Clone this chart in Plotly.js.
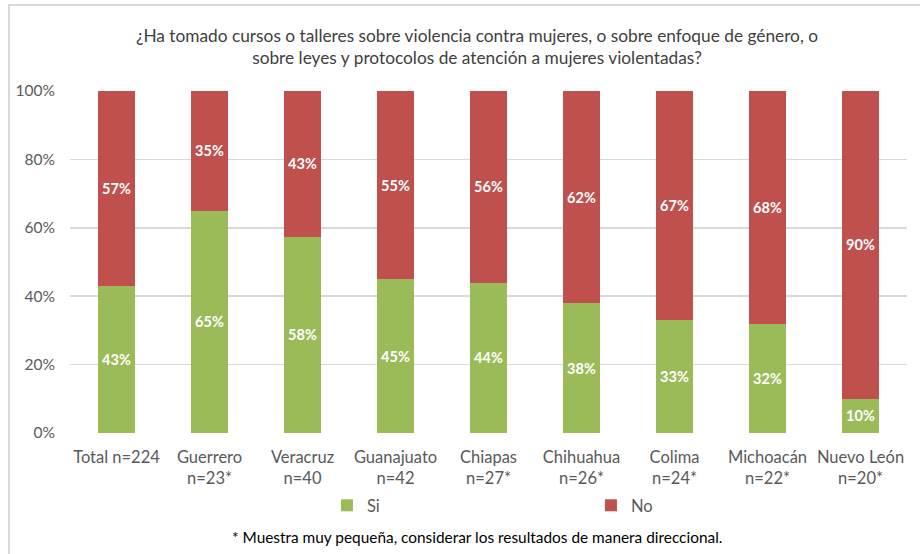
<!DOCTYPE html>
<html>
<head>
<meta charset="utf-8">
<script src="https://cdn.plot.ly/plotly-3.0.1.min.js"></script>
<style>
html,body{margin:0;padding:0;background:#fff;}
#frame{position:absolute;left:8px;top:4px;width:930px;height:560px;border:2px solid #D9D9D9;box-sizing:border-box;}
#chart{position:absolute;left:0;top:0;width:920px;height:554px;}
</style>
</head>
<body>
<div id="frame"></div>
<div id="chart"></div>
<script>
const categories = ["Total n=224", "Guerrero<br>n=23*", "Veracruz<br>n=40", "Guanajuato<br>n=42", "Chiapas<br>n=27*", "Chihuahua<br>n=26*", "Colima<br>n=24*", "Michoacán<br>n=22*", "Nuevo León<br>n=20*"];
const siValues = [43, 65, 58, 45, 44, 38, 33, 32, 10];
const noValues = [57, 35, 43, 55, 56, 62, 67, 68, 90];
const yTicks = [0, 20, 40, 60, 80, 100];
const yTickText = ["0%", "20%", "40%", "60%", "80%", "100%"];

const FONT = "Lato, 'Open Sans', sans-serif";

const traces = [
  {
    type: 'bar', name: 'Si', x: categories, y: siValues,
    text: siValues.map(v => v + '%'), texttemplate: '<b>%{text}</b>',
    textposition: 'inside', insidetextanchor: 'middle',
    textfont: {color: '#FFFFFF', size: 14.5, family: FONT},
    marker: {color: '#9BBB59'}, hoverinfo: 'none'
  },
  {
    type: 'bar', name: 'No', x: categories, y: noValues,
    text: noValues.map(v => v + '%'), texttemplate: '<b>%{text}</b>',
    textposition: 'inside', insidetextanchor: 'middle',
    textfont: {color: '#FFFFFF', size: 14.5, family: FONT},
    marker: {color: '#C0504D'}, hoverinfo: 'none'
  }
];

const layout = {
  width: 920, height: 554,
  margin: {l: 70, r: 13, t: 91, b: 121},
  paper_bgcolor: 'rgba(0,0,0,0)', plot_bgcolor: 'rgba(0,0,0,0)',
  barmode: 'stack', barnorm: 'percent', bargap: 0.6,
  font: {family: FONT, color: '#595959', size: 16},
  title: {
    text: '¿Ha tomado cursos o talleres sobre violencia contra mujeres, o sobre enfoque de género, o<br>sobre leyes y protocolos de atención a mujeres violentadas?',
    font: {size: 17.3, color: '#404040', family: FONT},
    x: 0.5185, xanchor: 'center', y: 0.9245, yanchor: 'top'
  },
  xaxis: {
    type: 'category', showgrid: false, zeroline: false, showline: false,
    ticks: '', ticklabelstandoff: 12,
    tickfont: {size: 16.5, color: '#595959', family: FONT}, fixedrange: true
  },
  yaxis: {
    range: [0, 100], tickvals: yTicks, ticktext: yTickText,
    showgrid: true, gridcolor: '#D9D9D9', gridwidth: 1.5,
    zeroline: false, showline: false, ticks: '', ticklabelstandoff: 14,
    tickfont: {size: 15.5, color: '#595959', family: FONT}, fixedrange: true
  },
  legend: {
    orientation: 'h', x: 0.307, xanchor: 'left', y: -0.161, yanchor: 'top',
    entrywidth: 219, entrywidthmode: 'pixels',
    font: {size: 16.5, color: '#595959', family: FONT}, traceorder: 'normal'
  },
  annotations: [{
    text: '* Muestra muy pequeña, considerar los resultados de manera direccional.',
    xref: 'paper', yref: 'paper', x: 0.486, xanchor: 'center',
    y: -0.305, yanchor: 'middle', showarrow: false,
    font: {size: 15.4, color: '#000000', family: FONT}
  }],
  showlegend: true
};

Plotly.newPlot('chart', traces, layout, {displayModeBar: false, staticPlot: true});
</script>
</body>
</html>
